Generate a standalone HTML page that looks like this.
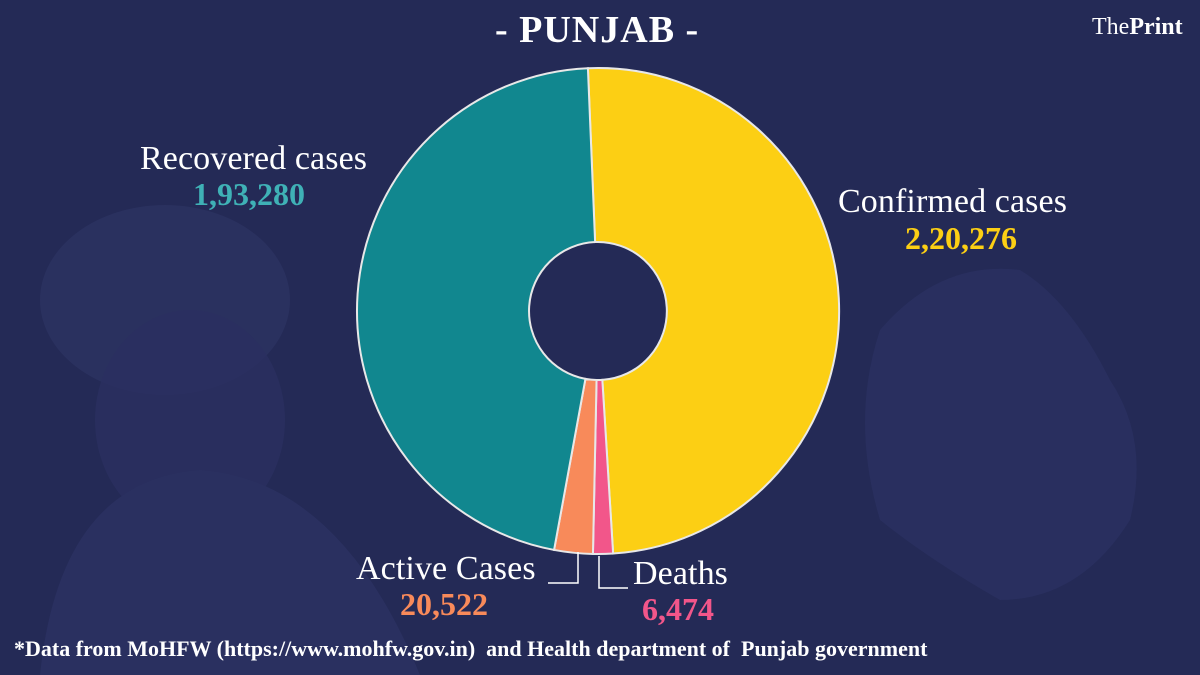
<!DOCTYPE html>
<html><head><meta charset="utf-8"><style>
body{margin:0;width:1200px;height:675px;overflow:hidden;background:#242a56;font-family:"Liberation Serif",serif;}
svg{position:absolute;left:0;top:0}
.t{position:absolute;white-space:nowrap;font-weight:bold}
.l{font-weight:normal;font-size:34px;letter-spacing:0.1px}
</style></head><body>
<svg width="1200" height="675" viewBox="0 0 1200 675">
<rect width="1200" height="675" fill="#242a56"/>
<ellipse cx="165" cy="300" rx="125" ry="95" fill="#2b3261" opacity="0.9"/>
<ellipse cx="190" cy="420" rx="95" ry="110" fill="#2a3060" opacity="0.8"/>
<path d="M40 675 Q60 480 200 470 Q340 480 420 675Z" fill="#2a3060"/>
<path d="M880 330 Q940 260 1020 270 Q1070 300 1110 380 Q1150 440 1130 520 Q1080 600 1000 600 Q930 560 880 520 Q850 420 880 330Z" fill="#2b3161" opacity="0.8"/>
<g id="pie"></g>
<path d="M578 552 V583 H548" stroke="#fff" stroke-width="1.5" fill="none"/>
<path d="M599 556 V588 H628" stroke="#fff" stroke-width="1.5" fill="none"/>
</svg>
<div class="t" style="left:495px;top:8px;font-size:38px;color:#fff;letter-spacing:1px">- PUNJAB -</div>
<div class="t" style="left:1092px;top:14px;font-size:24px;color:#fff;font-weight:normal">The<b>Print</b></div>
<div class="t l" style="left:140px;top:140px;color:#fff">Recovered cases</div>
<div class="t" style="left:193px;top:176px;font-size:32px;color:#3fb1b6">1,93,280</div>
<div class="t l" style="left:838px;top:183px;color:#fff">Confirmed cases</div>
<div class="t" style="left:905px;top:220px;font-size:32px;color:#fccf14">2,20,276</div>
<div class="t l" style="left:356px;top:550px;color:#fff">Active Cases</div>
<div class="t" style="left:400px;top:586px;font-size:32px;color:#f88a5a">20,522</div>
<div class="t l" style="left:633px;top:555px;color:#fff">Deaths</div>
<div class="t" style="left:642px;top:591px;font-size:32px;color:#f2568a">6,474</div>
<div class="t" style="left:14px;top:636px;font-size:22px;color:#fff">*Data from MoHFW (https://www.mohfw.gov.in)&nbsp; and Health department of&nbsp; Punjab government</div>
<script>
var cx=598,cy=311,rx=241,ry=243,ri=69;
var d=[[-2.4,176.4,"#fccf14"],[176.4,181.2,"#f2568a"],[181.2,190.5,"#f88a5a"],[190.5,357.6,"#11878f"]];
var g=document.getElementById("pie"),s="";
function P(t,r1,r2){t=t*Math.PI/180;return (cx+r1*Math.sin(t)).toFixed(2)+" "+(cy-r2*Math.cos(t)).toFixed(2);}
d.forEach(function(e){var a=e[0],b=e[1],l=(b-a)>180?1:0;
s+='<path d="M'+P(a,rx,ry)+' A'+rx+' '+ry+' 0 '+l+' 1 '+P(b,rx,ry)+' L'+P(b,ri,ri)+' A'+ri+' '+ri+' 0 '+l+' 0 '+P(a,ri,ri)+'Z" fill="'+e[2]+'" stroke="#e8e8e8" stroke-width="2"/>';});
g.innerHTML=s;
</script>
</body></html>
